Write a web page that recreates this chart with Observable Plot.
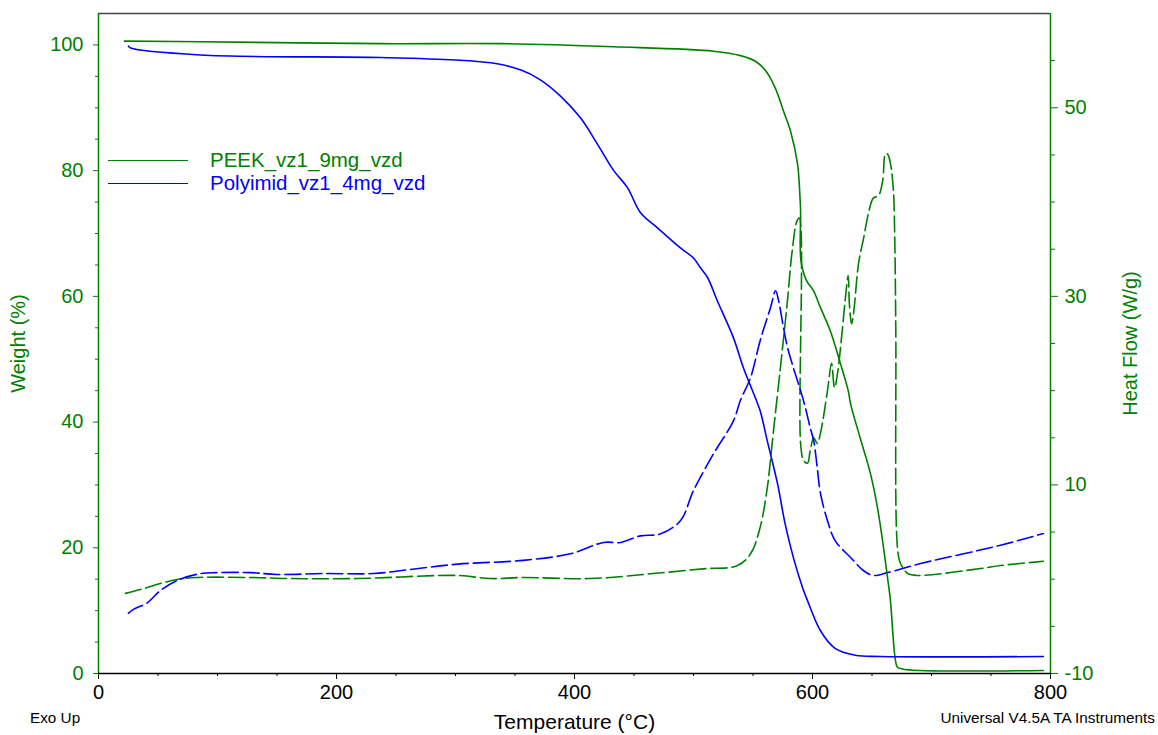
<!DOCTYPE html>
<html>
<head>
<meta charset="utf-8">
<script src="https://cdn.jsdelivr.net/npm/d3@7"></script>
<script src="https://cdn.jsdelivr.net/npm/@observablehq/plot@0.6"></script>
<style>
  html, body { margin: 0; padding: 0; background: #fff; }
  #wrap { position: relative; width: 1158px; height: 735px; font-family: "Liberation Sans", Arial, sans-serif; }
  .leg { position: absolute; left: 108px; width: 80px; height: 0; border-top: 1.5px solid; }
  .legt { position: absolute; left: 210px; font-size: 20.5px; line-height: 22px; }
  .cap { position: absolute; top: 709px; font-size: 15.3px; color: #000; }
</style>
</head>
<body>
<div id="wrap">
  <div id="chart"></div>
  <div class="leg" style="top:160px;border-color:#008000"></div>
  <div class="legt" style="top:149px;color:#008000">PEEK_vz1_9mg_vzd</div>
  <div class="leg" style="top:183px;border-color:#0000ff"></div>
  <div class="legt" style="top:172px;color:#0000ff">Polyimid_vz1_4mg_vzd</div>
  <div class="cap" style="left:30px">Exo Up</div>
  <div class="cap" style="right:3px">Universal V4.5A TA Instruments</div>
</div>
<script>
// ---- data ----
const xMajor = [0, 200, 400, 600, 800];
const xMinor = [50, 100, 150, 250, 300, 350, 450, 500, 550, 650, 700, 750];
const wMajor = [0, 20, 40, 60, 80, 100];
const wMinor = [5, 10, 15, 25, 30, 35, 45, 50, 55, 65, 70, 75, 85, 90, 95];
const hfMajor = [-10, 10, 30, 50];
const hfMinor = [-5, 0, 5, 15, 20, 25, 35, 40, 45, 55];

const peekWtT = [21.8, 85.7, 237, 338, 433, 517, 539.5, 552, 561, 569, 575.6, 581.5, 587.4, 589.5, 590, 590.3, 595, 600.8, 606.7, 615, 623.5, 630, 632, 640, 648.7, 654.6, 659.7, 663, 665.5, 668, 669.7, 671.4, 678, 794];
const peekWt  = [100.6, 100.5, 100.2, 100.2, 99.7, 99.0, 98.3, 97.4, 95.8, 93.0, 89.5, 86.3, 81.1, 75.7, 73.6, 65.7, 62.5, 60.9, 58.2, 54.5, 49.3, 45, 42.9, 37.5, 31.8, 26.4, 20, 15.3, 11.6, 5.2, 2.1, 1.0, 0.64, 0.48];

const polyWtT = [25.2, 27, 85.7, 237, 300, 335, 355, 370, 388, 405, 419, 433, 444.5, 455.5, 469.7, 489, 500, 506, 511.8, 520, 533.6, 542, 550.6, 556, 562, 570.6, 577, 584, 591.6, 595.8, 606.7, 619, 636, 657, 794];
const polyWt  = [99.8, 99.5, 98.4, 98.0, 97.6, 97.0, 96.0, 94.6, 91.9, 88.4, 84.3, 80, 77.3, 73.3, 70.9, 67.7, 66.1, 64.5, 63, 59.3, 53.4, 48.6, 44.5, 41.8, 37, 30.2, 23.8, 18.4, 13.7, 11.6, 6.8, 4, 2.9, 2.7, 2.7];

const peekHfT = [22.7, 35, 52, 66, 83, 128, 161, 218, 302, 329, 357, 413, 466, 508, 537, 548, 556, 562, 567, 573, 579, 583, 587, 589, 590, 592.5, 595.8, 598, 601, 604, 606.7, 612.6, 616, 618.5, 621, 625, 627.7, 630, 631, 632.8, 634.5, 638.7, 643, 647, 651, 655.5, 659, 661.3, 663, 665.5, 668, 669, 670, 670.8, 673, 676, 680, 688, 741, 758, 794];
const peekHf  = [-1.5, -1.1, -0.46, -0.03, 0.18, 0.18, 0.07, 0.07, 0.4, 0.07, 0.18, 0.07, 0.6, 1.1, 1.45, 2.7, 5.5, 9.7, 15.5, 22.4, 29.6, 34.9, 38, 38.3, 14.4, 12.6, 12.3, 13.6, 15.0, 14.4, 15.5, 20, 22.9, 20.3, 21.8, 26.4, 29.9, 32.2, 29.2, 27.1, 28.2, 33.5, 36.2, 38.8, 40.4, 40.7, 42.3, 45.1, 45.1, 44.1, 41.2, 37, 26.4, 4.5, 2.0, 1.2, 0.6, 0.4, 1.13, 1.45, 1.9];

const polyHfT = [25.2, 29.4, 41, 52, 66, 85.7, 100, 128, 150, 189, 231, 260, 302, 357, 396.6, 424.4, 438.7, 455.5, 472, 489, 500, 516.8, 533.6, 539.5, 548, 556, 564.7, 569, 571.4, 575.6, 579, 584, 590, 594, 598, 601, 604, 606.7, 612.6, 619, 632, 643, 651, 663, 690.8, 758, 794];
const polyHf  = [-3.6, -3.2, -2.5, -1.2, -0.14, 0.6, 0.7, 0.7, 0.5, 0.6, 0.6, 1.0, 1.6, 2.0, 2.7, 3.9, 3.9, 4.6, 4.8, 6.2, 9.4, 13.3, 16.8, 19, 21.4, 25.3, 28.8, 30.6, 29.6, 26.7, 24.6, 22.4, 20, 18.2, 16.1, 14.7, 11.8, 9.1, 6.2, 4.1, 2.3, 0.9, 0.4, 0.7, 1.66, 3.6, 4.85];

// ---- build ----
const G = "#008000", B = "#0000ff";
const WMAX = 105, HFMIN = -10, HFMAX = 60;
const k = WMAX / (HFMAX - HFMIN);
const toW = hf => (hf - HFMIN) * k;
const fromW = w => Math.round(w / k + HFMIN);
const zip = (xs, ys, f = v => v) => xs.map((x, i) => ({x, y: f(ys[i])}));

const peekWtData = zip(peekWtT, peekWt);
const polyWtData = zip(polyWtT, polyWt);
const peekHfData = zip(peekHfT, peekHf, toW);
const polyHfData = zip(polyHfT, polyHf, toW);

const chart = Plot.plot({
  width: 1158,
  height: 735,
  marginLeft: 98,
  marginRight: 108,
  marginTop: 13,
  marginBottom: 62,
  style: {fontFamily: "'Liberation Sans', Arial, sans-serif", fontSize: "20px", background: "white"},
  x: {domain: [0, 800]},
  y: {domain: [0, WMAX]},
  marks: [
    Plot.axisX({ticks: xMajor, tickSize: 6, tickPadding: 5, fontSize: 20, color: "black",
      label: "Temperature (°C)", labelAnchor: "center", labelOffset: 55, labelArrow: "none"}),
    Plot.axisX({ticks: xMinor, tickSize: 3, tickFormat: () => "", label: null, color: "black"}),
    Plot.axisY({ticks: wMajor, tickSize: 5, tickPadding: 10, fontSize: 20, color: G,
      label: "Weight (%)", labelAnchor: "center", labelOffset: 88, labelArrow: "none"}),
    Plot.axisY({ticks: wMinor, tickSize: 3, tickFormat: () => "", label: null, color: G}),
    Plot.axisY({anchor: "right", ticks: hfMajor.map(toW), tickFormat: fromW, tickSize: 7, tickPadding: 7,
      fontSize: 20, color: G, label: "Heat Flow (W/g)", labelAnchor: "center", labelOffset: 86, labelArrow: "none"}),
    Plot.axisY({anchor: "right", ticks: hfMinor.map(toW), tickSize: 4, tickFormat: () => "", label: null, color: G}),
    Plot.ruleY([WMAX], {stroke: "#444", strokeWidth: 1.5}),
    Plot.ruleX([0], {stroke: G, strokeWidth: 1.5}),
    Plot.ruleX([800], {stroke: G, strokeWidth: 1.5}),
    Plot.ruleY([0], {stroke: "black", strokeWidth: 1.5}),
    Plot.line(peekHfData, {x: "x", y: "y", stroke: G, strokeWidth: 1.6, strokeDasharray: "16,5", curve: "catmull-rom"}),
    Plot.line(polyHfData, {x: "x", y: "y", stroke: B, strokeWidth: 1.6, strokeDasharray: "16,5", curve: "catmull-rom"}),
    Plot.line(peekWtData, {x: "x", y: "y", stroke: G, strokeWidth: 1.6, curve: "catmull-rom"}),
    Plot.line(polyWtData, {x: "x", y: "y", stroke: B, strokeWidth: 1.6, curve: "catmull-rom"})
  ]
});
chart.querySelectorAll("g[aria-label='x-axis label'] text").forEach(t => t.style.fontSize = "21px");
document.getElementById("chart").appendChild(chart);
</script>
</body>
</html>
